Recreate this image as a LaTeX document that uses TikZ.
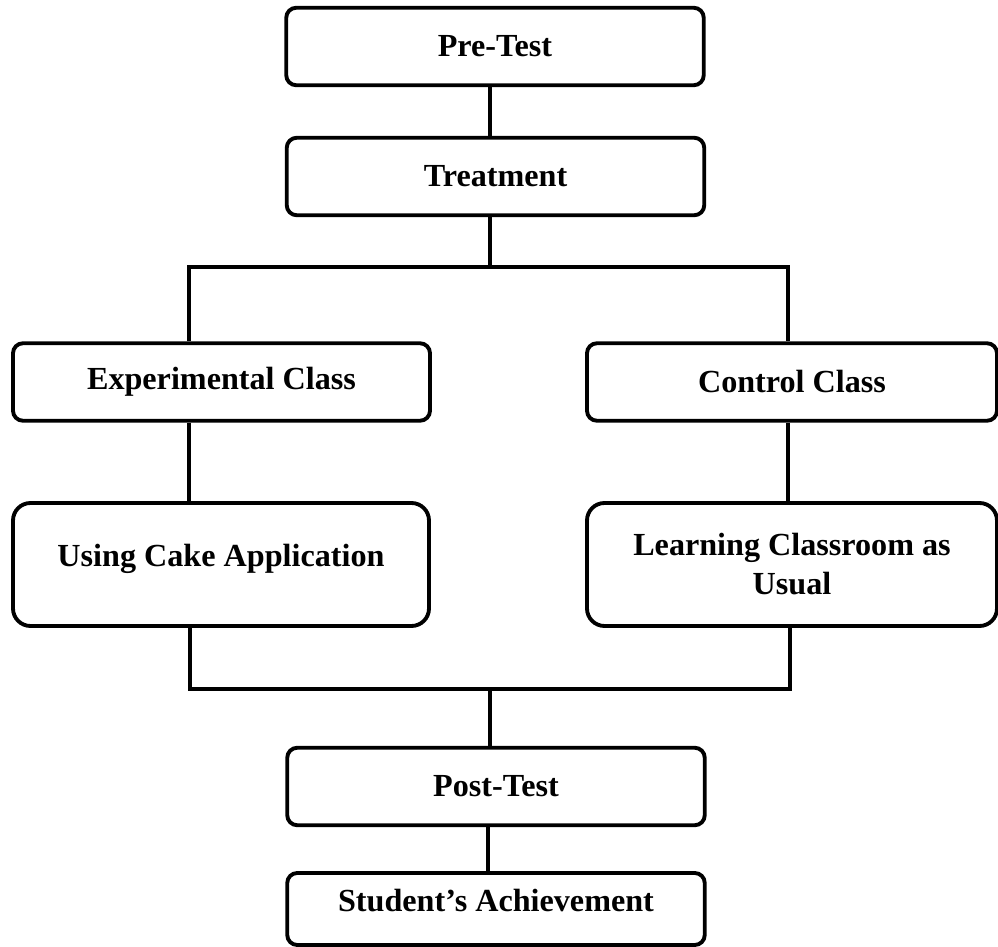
\documentclass[tikz,border=0pt]{standalone}
\usepackage{fontspec}
\setmainfont{Liberation Serif}
\usepackage{tikz}
\usetikzlibrary{
  positioning,
  calc
}
\tikzset{
  fcbox/.style={
    draw, rounded corners=0.2cm, line width=2.2pt, minimum height=1.55cm,
    minimum width=8.35cm, align=center,
    font=\fontsize{18.3}{22.2}\selectfont\bfseries
  },
  tallbox/.style={fcbox, rounded corners=0.35cm, minimum height=2.46cm},
  link/.style={line width=2.2pt}
}
\begin{document}
\begin{tikzpicture}
  \useasboundingbox (0,0) rectangle (19.96,-18.94);
  % top part
  \node[fcbox] (pre) at (9.9,-0.93) {Pre-Test};
  \node[fcbox] (treat) at (9.91,-3.53) {Treatment};
  % the two classes
  \node[fcbox, minimum width=8.34cm] (exp) at (4.43,-7.64) {Experimental Class};
  \node[fcbox, minimum width=8.2cm] (ctrl) at (15.84,-7.64) {Control Class};
  \node[tallbox, minimum width=8.32cm] (cake) at (4.42,-11.29) {\raisebox{0.36cm}{Using Cake Application}};
  \node[tallbox, minimum width=8.2cm] (usual) at (15.84,-11.29) {Learning Classroom as\\Usual};
  % bottom part
  \node[fcbox] (post) at (9.92,-15.73) {Post-Test};
  \node[fcbox, minimum height=1.44cm] (ach) at (9.92,-18.18) {\raisebox{0.36cm}{Student's Achievement}};
  % junctions
  \coordinate (mt) at (9.8,-5.34);
  \coordinate (lt) at (3.78,-5.34);
  \coordinate (rt) at (15.76,-5.34);
  \coordinate (lb) at (3.8,-13.78);
  \coordinate (rb) at (15.8,-13.78);
  \coordinate (mb) at (9.8,-13.78);
  \coordinate (ma) at (9.76,-16);
  \draw[link] (pre.south -| mt) -- (treat.north -| mt);
  \draw[link] (treat.south -| mt) -- (mt);
  \draw[link] (lt |- exp.north) -- (lt) -- (rt) -- (rt |- ctrl.north);
  \draw[link] (lt |- exp.south) -- (lt |- cake.north);
  \draw[link] (rt |- ctrl.south) -- (rt |- usual.north);
  \draw[link] (lb |- cake.south) -- (lb) -- (rb) -- (rb |- usual.south);
  \draw[link] (mb) -- (mb |- post.north);
  \draw[link] (post.south -| ma) -- (ach.north -| ma);
\end{tikzpicture}
\end{document}
